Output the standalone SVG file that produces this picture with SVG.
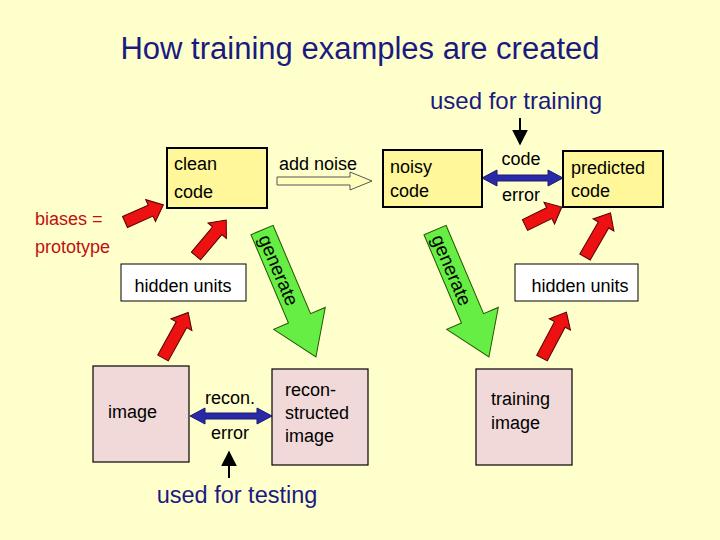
<svg xmlns="http://www.w3.org/2000/svg" width="720" height="540" viewBox="0 0 720 540">
<defs>
<style>
text{font-family:"Liberation Sans",Arial,sans-serif;fill:#000}
.y{fill:#fff799;stroke:#000;stroke-width:2}
.p{fill:#f2d9d9;stroke:#000;stroke-width:1.2}
.w{fill:#fff;stroke:#000;stroke-width:1}
.t{font-size:18px}
.red{fill:#ee1111;stroke:#550000;stroke-width:1}
.grn{fill:#66ee44;stroke:#225500;stroke-width:1}
.blue{fill:#2a2aa8;stroke:#1a1a70;stroke-width:1}
</style>
<marker id="ah" viewBox="0 0 10 10" refX="9" refY="5" markerWidth="8" markerHeight="8" orient="auto"><path d="M0,0 L10,5 L0,10 z" fill="#000"/></marker>
</defs>
<rect width="720" height="540" fill="#ffffcc"/>
<text x="360" y="59" font-size="31" text-anchor="middle" style="fill:#1a1a80">How training examples are created</text>
<text x="516" y="109" font-size="24" text-anchor="middle" style="fill:#1a1a80">used for training</text>
<text x="237" y="503" font-size="23.5" text-anchor="middle" style="fill:#1a1a80">used for testing</text>
<text x="35" y="225" class="t" style="fill:#c01010">biases =</text>
<text x="35" y="253" class="t" style="fill:#c01010">prototype</text>
<text x="318" y="170" class="t" text-anchor="middle">add noise</text>
<text x="521" y="165" class="t" text-anchor="middle">code</text>
<text x="521" y="201" class="t" text-anchor="middle">error</text>
<text x="230" y="404" class="t" text-anchor="middle">recon.</text>
<text x="230" y="439" class="t" text-anchor="middle">error</text>
<g id="connectors">
<line x1="520" y1="118" x2="520" y2="144" stroke="#000" stroke-width="2" marker-end="url(#ah)"/>
<line x1="229" y1="478" x2="229" y2="452" stroke="#000" stroke-width="2" marker-end="url(#ah)"/>
<path d="M277,177 L350,177 L350,172 L372,181 L350,190 L350,185 L277,185 Z" fill="#ffffbb" stroke="#555" stroke-width="1"/>
<path class="blue" d="M482,178 L497,170 L497,175 L548,175 L548,170 L563,178 L548,186 L548,181 L497,181 L497,186 Z"/>
<path class="blue" d="M190,416 L205,408 L205,413 L257,413 L257,408 L272,416 L257,424 L257,419 L205,419 L205,424 Z"/>
<path class="red" transform="translate(125,222) rotate(-24)" d="M0,-6 L28,-6 L28,-12 L42,0 L28,12 L28,6 L0,6 Z"/>
<path class="red" transform="translate(196,256) rotate(-50)" d="M0,-6 L33,-6 L33,-12 L47,0 L33,12 L33,6 L0,6 Z"/>
<path class="red" transform="translate(163,358) rotate(-61)" d="M0,-6 L38,-6 L38,-12 L52,0 L38,12 L38,6 L0,6 Z"/>
<path class="red" transform="translate(525,225) rotate(-26)" d="M0,-6 L27,-6 L27,-12 L41,0 L27,12 L27,6 L0,6 Z"/>
<path class="red" transform="translate(585,257) rotate(-60)" d="M0,-6 L37,-6 L37,-12 L51,0 L37,12 L37,6 L0,6 Z"/>
<path class="red" transform="translate(542,358) rotate(-62)" d="M0,-6 L38,-6 L38,-12 L52,0 L38,12 L38,6 L0,6 Z"/>
<g transform="translate(262,230) rotate(67)"><path class="grn" d="M0,-12 L96,-12 L96,-28 L138,0 L96,28 L96,12 L0,12 Z"/><text x="6" y="7" font-size="19">generate</text></g>
<g transform="translate(435,230) rotate(67)"><path class="grn" d="M0,-12 L96,-12 L96,-28 L138,0 L96,28 L96,12 L0,12 Z"/><text x="6" y="7" font-size="19">generate</text></g>
</g>
<g id="clean"><rect class="y" x="167" y="148" width="100" height="60"/><text x="174" y="170" class="t">clean</text><text x="174" y="198" class="t">code</text></g>
<g id="noisy"><rect class="y" x="383" y="150" width="99" height="57"/><text x="390" y="173" class="t">noisy</text><text x="390" y="197" class="t">code</text></g>
<g id="predicted"><rect class="y" x="563" y="151" width="100" height="56"/><text x="571" y="174" class="t">predicted</text><text x="571" y="197" class="t">code</text></g>
<g id="hidden1"><rect class="w" x="121" y="264" width="125" height="37"/><text x="183" y="292" class="t" text-anchor="middle">hidden units</text></g>
<g id="hidden2"><rect class="w" x="515" y="264" width="123" height="37"/><text x="580" y="292" class="t" text-anchor="middle">hidden units</text></g>
<g id="image"><rect class="p" x="93" y="366" width="96" height="96"/><text x="108" y="418" class="t">image</text></g>
<g id="recon"><rect class="p" x="272" y="369" width="96" height="96"/><text x="285" y="396" class="t">recon-</text><text x="285" y="419" class="t">structed</text><text x="285" y="442" class="t">image</text></g>
<g id="training"><rect class="p" x="476" y="369" width="96" height="96"/><text x="491" y="405" class="t">training</text><text x="491" y="429" class="t">image</text></g>
</svg>
